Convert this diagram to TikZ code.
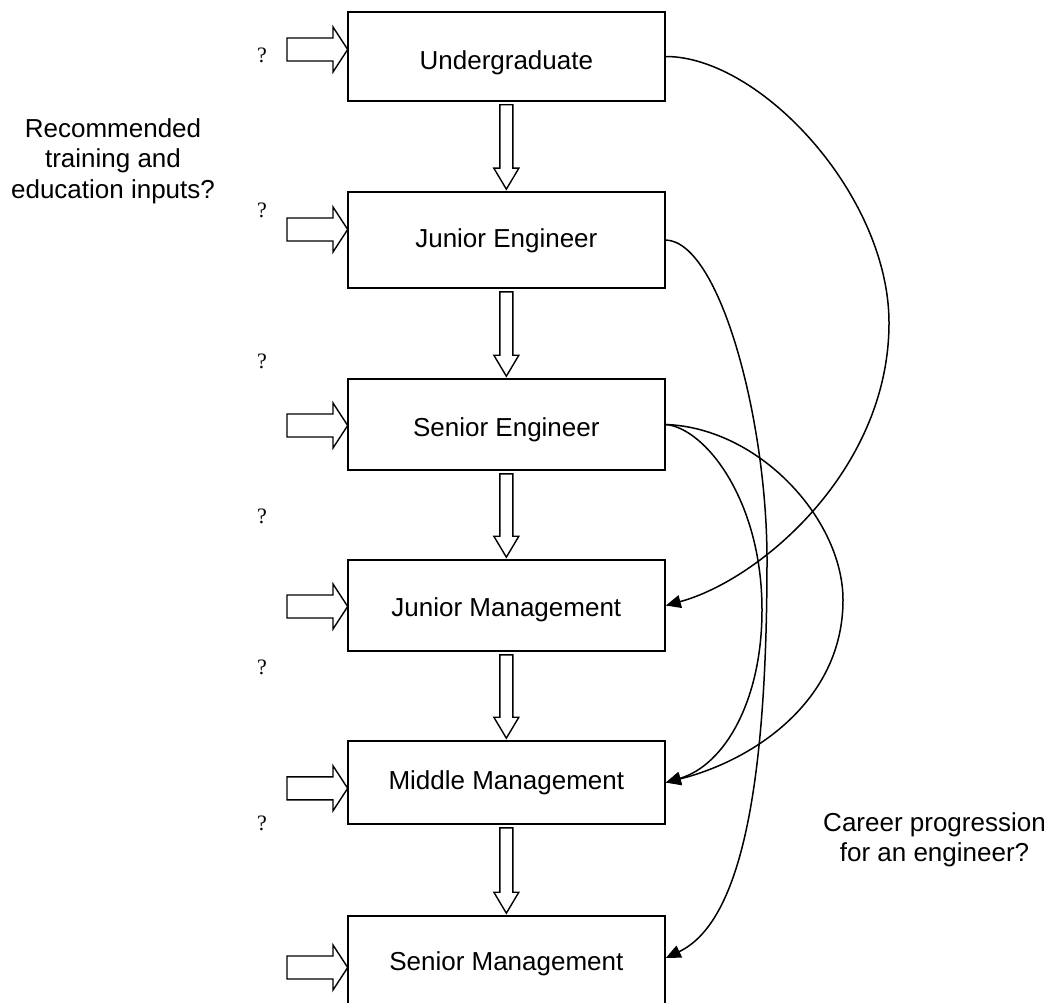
\documentclass[tikz,border=0pt]{standalone}
\usepackage{fontspec}
\setmainfont{Liberation Sans}
\newfontfamily\qfont{Liberation Serif}
\usetikzlibrary{arrows.meta,calc}
\newcommand\blockdown[2]{\draw[blockarr] let \p1=(#1.south), \p2=(#2.north) in
 (\x1-6.5pt,\y1-3pt) -- (\x1-6.5pt,\y2+23pt) -- (\x1-12.5pt,\y2+23pt) -- (\x1,\y2+2pt)
 -- (\x1+12.5pt,\y2+23pt) -- (\x1+6.5pt,\y2+23pt) -- (\x1+6.5pt,\y1-3pt) -- cycle;}
\newcommand\inarrow[1]{\draw[blockarr] (287,{#1-11.5}) -- (333,{#1-11.5}) -- (333,{#1-22.5})
 -- (347.7,#1) -- (333,{#1+22.5}) -- (333,{#1+11.5}) -- (287,{#1+11.5}) -- cycle;}
\begin{document}
\begin{tikzpicture}[x=1pt,y=-1pt,
  stage/.style={draw=black, line width=1.6pt, fill=white, minimum width=317.3pt,
    inner sep=0pt, font=\fontsize{26}{30}\selectfont},
  blockarr/.style={draw=black, line width=1.4pt, fill=white, line join=miter},
  prog/.style={line width=1.5pt, -{Triangle[length=15pt,width=13pt]}},
  qmark/.style={font=\qfont\fontsize{22}{26}\selectfont, inner sep=0pt},
  side/.style={align=center, font=\fontsize{26}{30.5}\selectfont, inner sep=0pt}]
\useasboundingbox (0,0) rectangle (1057,1003);
\clip (0,0) rectangle (1057,1003);
% stages
\node[stage, minimum height=89pt, text height=31pt] (ug) at (506.35,56.5) {Undergraduate};
\node[stage, minimum height=96pt, text height=21pt] (je) at (506.35,240) {Junior Engineer};
\node[stage, minimum height=91pt, text height=29pt] (se) at (506.35,424.5) {Senior Engineer};
\node[stage, minimum height=91pt, text height=27pt] (jm) at (506.35,605.5) {Junior Management};
\node[stage, minimum height=83pt, text height=19pt] (mm) at (506.35,782.5) {Middle Management};
\node[stage, minimum height=90pt, text height=25pt] (sm) at (506.35,961) {Senior Management};
% downward block arrows
\blockdown{ug}{je}
\blockdown{je}{se}
\blockdown{se}{jm}
\blockdown{jm}{mm}
\blockdown{mm}{sm}
% input arrows
\inarrow{49.5}
\inarrow{229.5}
\inarrow{425.5}
\inarrow{606.5}
\inarrow{788.3}
\inarrow{967.5}
% question marks
\node[qmark] (q1) at (262,55) {?};
\node[qmark] (q2) at (262,210) {?};
\node[qmark] (q3) at (262,361) {?};
\node[qmark] (q4) at (262,516) {?};
\node[qmark] (q5) at (262,667) {?};
\node[qmark] (q6) at (262,823) {?};
% side labels
\node[side] (train) at (113,160.8) {Recommended\\training and\\education inputs?};
\node[side] (career) at (934.5,840) {Career progression\\for an engineer?};
% career progression curves
\draw[prog] (ug.east) .. controls (760,56.5) and (889,195) .. (889,323)
  .. controls (889,470) and (760,580) .. (jm.east);
\draw[prog] (je.east) .. controls (720,242) and (767,420) .. (767,560)
  .. controls (767,810) and (735,925) .. ($(sm.east)+(0,-3)$);
\draw[prog] (se.east) .. controls (760,428) and (843,520) .. (843,600)
  .. controls (843,700) and (755,760) .. (mm.east);
\draw[prog] (se.east) .. controls (705,428) and (762,500) .. (762,610)
  .. controls (762,700) and (725,765) .. (mm.east);
\end{tikzpicture}
\end{document}
